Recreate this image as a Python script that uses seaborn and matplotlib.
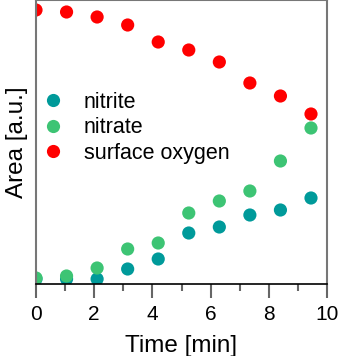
import matplotlib
matplotlib.use("Agg")
import matplotlib.pyplot as plt
import seaborn as sns
import pandas as pd
from matplotlib.ticker import MultipleLocator

time = [0, 1.05, 2.1, 3.15, 4.2, 5.25, 6.3, 7.35, 8.4, 9.45]
nitrite = [5, 5, 5, 15, 25, 51, 57, 69, 74, 86]
nitrate = [6, 8, 16, 35, 41, 71, 83, 93, 123, 156]
oxygen = [274, 272, 267, 259, 242, 234, 222, 201, 188, 170]
series = ["nitrite", "nitrate", "surface oxygen"]
colors = ["#009A9A", "#3DC474", "#FF0000"]

df = pd.concat([
    pd.DataFrame({"t": time, "v": nitrite, "s": series[0]}),
    pd.DataFrame({"t": time, "v": nitrate, "s": series[1]}),
    pd.DataFrame({"t": time, "v": oxygen, "s": series[2]}),
], ignore_index=True)

sns.set_style("white")
plt.rcParams["font.family"] = ["Liberation Sans", "DejaVu Sans"]
plt.rcParams["text.color"] = "black"
plt.rcParams["axes.labelcolor"] = "black"
plt.rcParams["xtick.color"] = "black"

fig = plt.figure(figsize=(3.42, 3.56), dpi=100)
ax = fig.add_axes([36/342, 1 - 284/356, 291/342, 284/356])
sns.scatterplot(data=df, x="t", y="v", hue="s", hue_order=series,
                palette=colors, s=90, linewidth=0, ax=ax, legend=True)

ax.set_xlim(0, 10)
ax.set_ylim(0, 284)
ax.set_yticks([])
ax.xaxis.set_major_locator(MultipleLocator(2))
ax.xaxis.set_minor_locator(MultipleLocator(1))
ax.tick_params(axis="x", which="major", direction="out", length=10, width=1.5,
               color="#666666", labelcolor="black", labelsize=15, pad=5, bottom=True)
ax.tick_params(axis="x", which="minor", direction="out", length=5, width=1.5,
               color="#666666", bottom=True)
for side in ["left", "right", "top"]:
    ax.spines[side].set_color("#777777")
    ax.spines[side].set_linewidth(1.5)
ax.spines["bottom"].set_color("black")
ax.spines["bottom"].set_linewidth(1.2)

ax.set_xlabel("Time [min]", fontsize=17.5, labelpad=8, color="black")
ax.set_ylabel("Area [a.u.]", fontsize=17.5, labelpad=6, color="black")

leg = ax.legend(loc="upper left", bbox_to_anchor=(0.02, 0.676), frameon=False,
                fontsize=15.5, handlelength=1.0, handletextpad=0.95,
                labelspacing=0.2, borderaxespad=0, borderpad=0,
                markerscale=1.0)
for t in leg.get_texts():
    t.set_color("black")

fig.savefig("out.png", dpi=100)
